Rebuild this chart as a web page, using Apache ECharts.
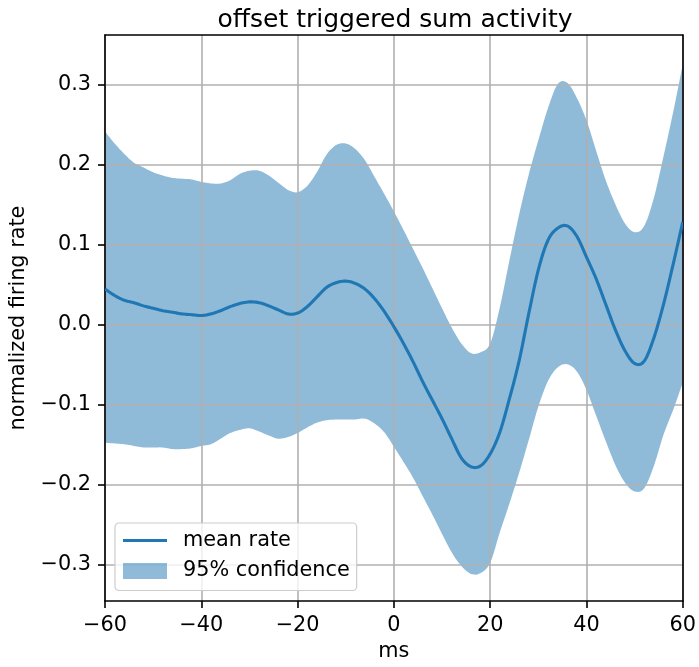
<!DOCTYPE html>
<html>
<head>
<meta charset="utf-8">
<script src="https://cdn.jsdelivr.net/npm/echarts@6/dist/echarts.min.js"></script>
<style>
  html, body { margin: 0; padding: 0; background: #fff; }
  #chart { width: 699px; height: 667px; }
</style>
</head>
<body>
<div id="chart"></div>
<script>
// time axis, ms relative to offset
const timeMs = [
  -60, -58, -56, -54, -52, -50, -48, -46, -44, -42, -40, -38, -36, -34, -32, -30,
  -28, -26, -24, -22, -20, -18, -16, -14, -12, -10, -8, -6, -4, -2, 0,
  2, 4, 6, 8, 10, 12, 14, 16, 18, 20, 22, 24, 26, 28, 30,
  32, 34, 36, 38, 40, 42, 44, 46, 48, 50, 52, 54, 56, 58, 60
];

// mean normalized firing rate
const meanRate = [
  0.044, 0.036, 0.030, 0.027, 0.023, 0.020, 0.017, 0.015, 0.013, 0.012, 0.011, 0.013, 0.017, 0.022, 0.026, 0.028,
  0.027, 0.023, 0.018, 0.013, 0.014, 0.022, 0.034, 0.046, 0.052, 0.054, 0.051, 0.044, 0.032, 0.016, -0.003,
  -0.024, -0.047, -0.072, -0.095, -0.118, -0.143, -0.167, -0.178, -0.177, -0.162, -0.135, -0.093, -0.046, 0.013, 0.068,
  0.105, 0.120, 0.123, 0.110, 0.084, 0.057, 0.025, -0.007, -0.033, -0.049, -0.046, -0.017, 0.025, 0.075, 0.128
];

// 95% confidence bounds
const upperBound = [
  0.241, 0.226, 0.213, 0.202, 0.196, 0.190, 0.186, 0.183, 0.182, 0.181, 0.178, 0.176, 0.176, 0.180, 0.188, 0.192,
  0.192, 0.186, 0.177, 0.168, 0.165, 0.173, 0.190, 0.212, 0.224, 0.226, 0.219, 0.205, 0.184, 0.163, 0.141,
  0.118, 0.094, 0.070, 0.045, 0.020, -0.004, -0.024, -0.036, -0.035, -0.024, 0.021, 0.080, 0.137, 0.187, 0.230,
  0.270, 0.300, 0.302, 0.283, 0.255, 0.217, 0.180, 0.150, 0.126, 0.115, 0.123, 0.158, 0.210, 0.265, 0.325
];
const lowerBound = [
  -0.148, -0.149, -0.150, -0.152, -0.154, -0.154, -0.154, -0.156, -0.156, -0.155, -0.152, -0.150, -0.143, -0.136, -0.132, -0.130,
  -0.134, -0.139, -0.143, -0.141, -0.136, -0.129, -0.123, -0.120, -0.119, -0.119, -0.119, -0.118, -0.124, -0.135, -0.153,
  -0.172, -0.192, -0.215, -0.238, -0.262, -0.285, -0.302, -0.312, -0.311, -0.298, -0.260, -0.224, -0.186, -0.145, -0.103,
  -0.071, -0.054, -0.050, -0.059, -0.082, -0.114, -0.146, -0.176, -0.198, -0.209, -0.205, -0.177, -0.138, -0.107, -0.073
];

const yTicks = [-0.3, -0.2, -0.1, 0.0, 0.1, 0.2, 0.3];

const FONT = 'DejaVu Sans';
const BLUE = '#1f77b4';
const BAND = 'rgba(31,119,180,0.5)';
const minus = s => String(s).replace('-', '\u2212');

const meanData = timeMs.map((t, i) => [t, meanRate[i]]);
// one row per sample: [t, lower, upper]
const bandData = timeMs.map((t, i) => [t, lowerBound[i], upperBound[i]]);

const Y_MIN = -0.3459, Y_MAX = 0.3616;

const frameAxis = {
  axisLine: { show: true, onZero: false, lineStyle: { color: '#000', width: 1.6 } },
  axisTick: { show: false },
  axisLabel: { show: false },
  splitLine: { show: false }
};

// trace a smooth curve through pixel points (Catmull-Rom, drawn as short segments)
function smoothEdge(pts, steps) {
  const out = [pts[0]];
  for (let i = 0; i < pts.length - 1; i++) {
    const p0 = pts[Math.max(i - 1, 0)], p1 = pts[i], p2 = pts[i + 1], p3 = pts[Math.min(i + 2, pts.length - 1)];
    for (let s = 1; s <= steps; s++) {
      const t = s / steps, t2 = t * t, t3 = t2 * t;
      const f = (a, b, c, d) => 0.5 * ((2 * b) + (-a + c) * t + (2 * a - 5 * b + 4 * c - d) * t2 + (-a + 3 * b - 3 * c + d) * t3);
      out.push([f(p0[0], p1[0], p2[0], p3[0]), f(p0[1], p1[1], p2[1], p3[1])]);
    }
  }
  return out;
}

// fill between the lower and upper bound as one closed polygon
function renderBand(params, api) {
  if (params.dataIndex !== 0) return null;
  const upper = smoothEdge(bandData.map(d => api.coord([d[0], d[2]])), 6);
  const lower = smoothEdge(bandData.map(d => api.coord([d[0], d[1]])), 6).reverse();
  return {
    type: 'polygon',
    shape: { points: upper.concat(lower) },
    style: { fill: BAND, stroke: null }
  };
}

// the mean rate as one smooth polyline
function renderMean(params, api) {
  if (params.dataIndex !== 0) return null;
  const pts = smoothEdge(meanData.map(d => api.coord(d)), 6);
  return {
    type: 'polyline',
    shape: { points: pts },
    style: { stroke: BLUE, lineWidth: 3.1, fill: null, lineJoin: 'round', lineCap: 'butt' }
  };
}

const chart = echarts.init(document.getElementById('chart'), null, { renderer: 'canvas' });
chart.setOption({
  animation: false,
  backgroundColor: '#fff',
  textStyle: { fontFamily: FONT, color: '#000' },
  title: {
    text: 'offset triggered sum activity',
    left: 395, top: 8, padding: 0, textAlign: 'center',
    textStyle: { fontFamily: FONT, fontSize: 25, fontWeight: 'normal', color: '#000' }
  },
  grid: { left: 105, top: 35, right: 14, bottom: 66, containLabel: false },
  legend: {
    left: 115, top: 523, orient: 'vertical',
    padding: [7, 7, 9, 8],
    itemWidth: 44, itemHeight: 16, itemGap: 9.5,
    borderColor: '#cccccc', borderWidth: 1.2, borderRadius: 4,
    backgroundColor: 'rgba(255,255,255,0.8)',
    textStyle: { fontFamily: FONT, fontSize: 20.8, color: '#000', padding: [0, 0, 0, 11] },
    data: [
      { name: 'mean rate', icon: 'path://M0,0L44,0L44,3.1L0,3.1Z', itemStyle: { color: BLUE } },
      { name: '95% confidence', icon: 'rect', itemStyle: { color: BAND } }
    ]
  },
  xAxis: [
    {
      type: 'value', min: -60, max: 60, interval: 20, z: 2,
      name: 'ms', nameLocation: 'middle', nameGap: 40,
      nameTextStyle: { fontFamily: FONT, fontSize: 20.8, color: '#000' },
      axisLine: { show: true, onZero: false, lineStyle: { color: '#000', width: 1.6 } },
      axisTick: { show: true, inside: false, length: 7, lineStyle: { color: '#000', width: 1.6 } },
      axisLabel: { margin: 14, fontFamily: FONT, fontSize: 20.8, color: '#000', formatter: v => minus(v) },
      splitLine: { show: true, lineStyle: { color: '#b0b0b0', width: 1.6 } }
    },
    Object.assign({ type: 'value', min: -60, max: 60, position: 'top', z: 2 }, frameAxis)
  ],
  yAxis: [
    {
      type: 'value', min: Y_MIN, max: Y_MAX, z: 2,
      name: 'normalized firing rate', nameLocation: 'middle', nameGap: 72, nameRotate: 90,
      nameTextStyle: { fontFamily: FONT, fontSize: 20.8, color: '#000' },
      axisLine: { show: true, onZero: false, lineStyle: { color: '#000', width: 1.6 } },
      axisTick: { show: true, inside: false, length: 7, customValues: yTicks, lineStyle: { color: '#000', width: 1.6 } },
      axisLabel: {
        margin: 14, fontFamily: FONT, fontSize: 20.8, color: '#000', customValues: yTicks,
        formatter: v => minus(v.toFixed(1))
      },
      splitLine: { show: true, lineStyle: { color: '#b0b0b0', width: 1.6 } }
    },
    Object.assign({ type: 'value', min: Y_MIN, max: Y_MAX, position: 'right', z: 2 }, frameAxis)
  ],
  series: [
    {
      name: '95% confidence', type: 'custom', data: bandData, z: 1,
      encode: { x: 0, y: [1, 2] }, clip: true, silent: true,
      color: BAND, itemStyle: { color: BAND },
      renderItem: renderBand
    },
    {
      name: 'mean rate', type: 'custom', data: meanData, z: 3,
      encode: { x: 0, y: 1 }, clip: true, silent: true,
      color: BLUE, itemStyle: { color: BLUE },
      renderItem: renderMean
    }
  ]
});
</script>
</body>
</html>
